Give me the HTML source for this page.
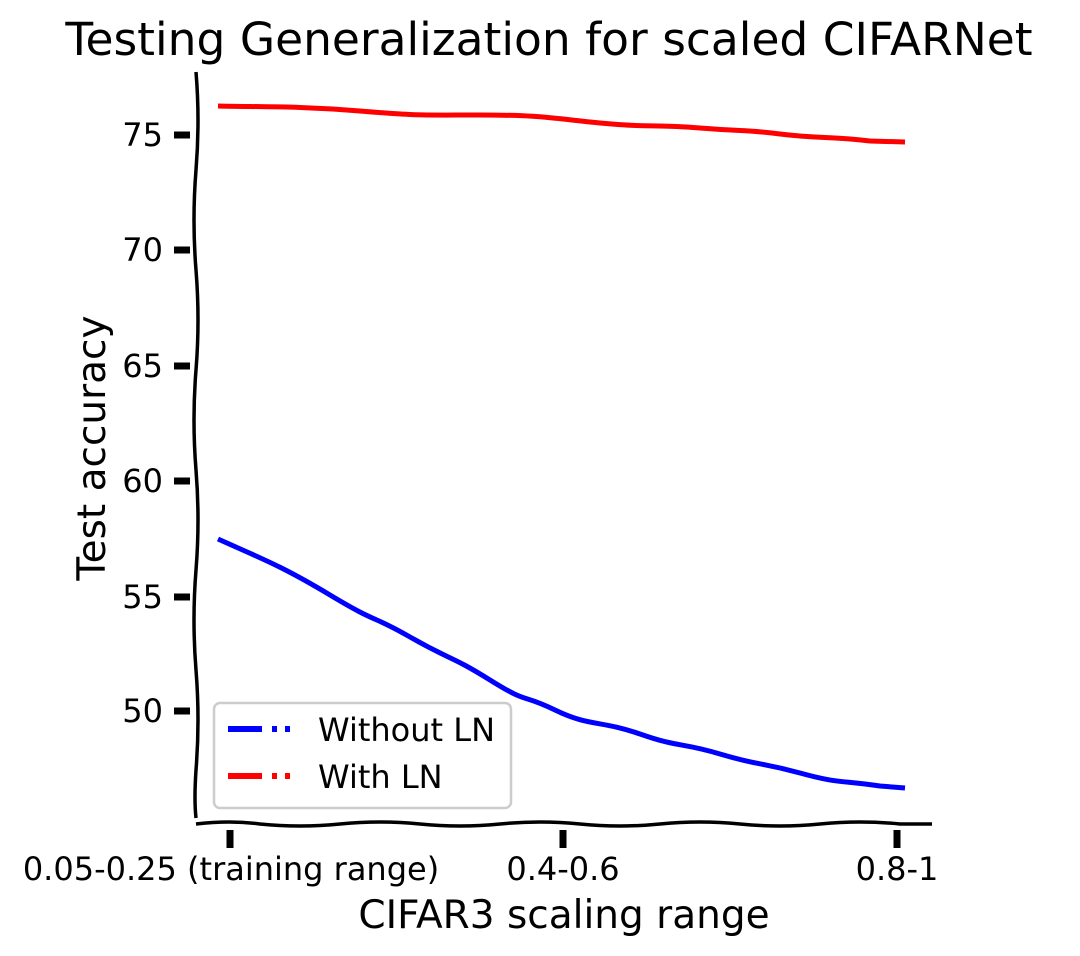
<!DOCTYPE html>
<html><head><style>body{margin:0;background:#fff}svg{display:block}text{font-family:"DejaVu Sans","Liberation Sans",sans-serif}</style></head><body>
<svg width="1080" height="956" viewBox="0 0 1080 956">
<text x="549" y="55" font-size="45.5" text-anchor="middle">Testing Generalization for scaled CIFARNet</text>
<path d="M196,72 Q200,120 196,170 Q192,220 196,270 Q200,320 196,370 Q192,420 196,470 Q200,520 196,570 Q192,620 196,670 Q200,720 196,770 Q194,800 196,818" fill="none" stroke="#000" stroke-width="3.5"/>
<path d="M196,824 Q230,820 260,824 Q300,828 340,824 Q380,820 420,824 Q460,828 500,824 Q540,820 580,824 Q620,828 660,824 Q700,820 740,824 Q780,828 820,824 Q860,820 900,824 L932,824" fill="none" stroke="#000" stroke-width="3.5"/>
<g stroke="#000" stroke-width="7">
<line x1="174" y1="135" x2="190" y2="135"/><line x1="174" y1="250" x2="190" y2="250"/><line x1="174" y1="366" x2="190" y2="366"/><line x1="174" y1="481" x2="190" y2="481"/><line x1="174" y1="597" x2="190" y2="597"/><line x1="174" y1="711" x2="190" y2="711"/>
<line x1="230" y1="830" x2="230" y2="848"/><line x1="563" y1="830" x2="563" y2="848"/><line x1="897" y1="830" x2="897" y2="848"/>
</g>
<g font-size="32" text-anchor="end">
<text x="163" y="146">75</text><text x="163" y="261">70</text><text x="163" y="377">65</text><text x="163" y="492">60</text><text x="163" y="608">55</text><text x="163" y="722">50</text>
</g>
<g font-size="32" text-anchor="middle">
<text x="231" y="880">0.05-0.25 (training range)</text><text x="563" y="880">0.4-0.6</text><text x="897" y="880">0.8-1</text>
</g>
<text x="564" y="928" font-size="39" text-anchor="middle">CIFAR3 scaling range</text>
<text transform="translate(105,448) rotate(-90)" font-size="39" text-anchor="middle">Test accuracy</text>
<path d="M218,106 C260,107 300,106 360,111 S420,115 480,115 S550,118 600,123 S650,124 700,128 S740,129 780,134 S830,136 870,141 L905,142" fill="none" stroke="#f00" stroke-width="5"/>
<path d="M218,539 C260,558 280,565 330,595 S370,614 410,637 S450,655 490,680 S520,693 555,710 S600,720 640,734 S680,742 720,754 S760,762 800,773 S840,780 880,786 L905,788" fill="none" stroke="#00f" stroke-width="5"/>
<rect x="214" y="703" width="297" height="105" rx="6" fill="#fff" fill-opacity="0.85" stroke="#ccc" stroke-width="2.5"/>
<line x1="228" y1="729" x2="262" y2="729" stroke="#00f" stroke-width="6"/><line x1="272" y1="729" x2="277" y2="729" stroke="#00f" stroke-width="6"/><line x1="285" y1="729" x2="290" y2="729" stroke="#00f" stroke-width="6"/>
<line x1="228" y1="776" x2="262" y2="776" stroke="#f00" stroke-width="6"/><line x1="272" y1="776" x2="277" y2="776" stroke="#f00" stroke-width="6"/><line x1="285" y1="776" x2="290" y2="776" stroke="#f00" stroke-width="6"/>
<text x="318" y="741" font-size="32">Without LN</text>
<text x="318" y="788" font-size="32">With LN</text>
</svg>
</body></html>
